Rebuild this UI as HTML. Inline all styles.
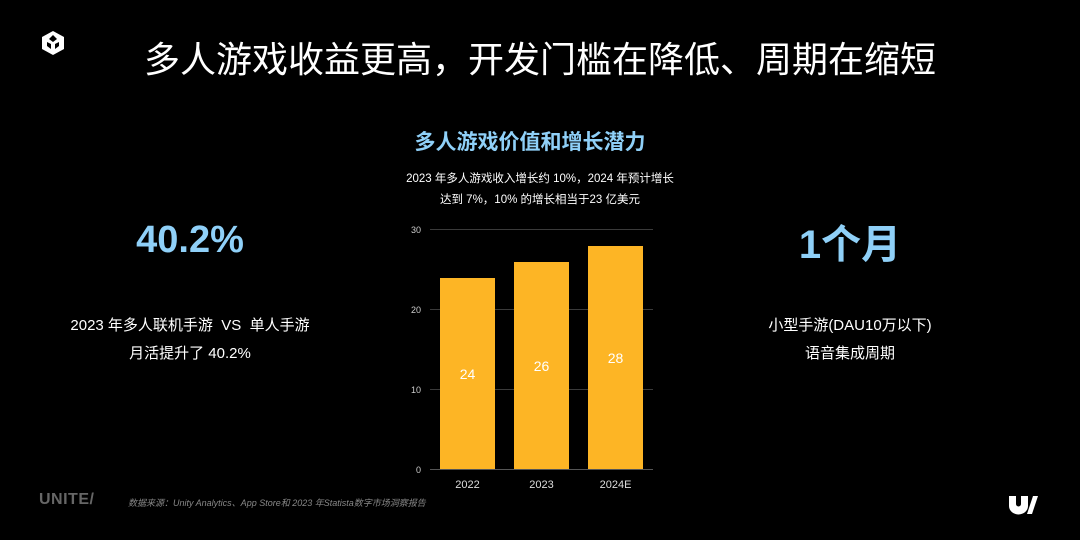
<!DOCTYPE html>
<html><head><meta charset="utf-8"><style>
body{margin:0;width:1080px;height:540px;background:#000;overflow:hidden;position:relative;font-family:"Liberation Sans","Noto Sans CJK SC",sans-serif;color:#fff}
.a{position:absolute;white-space:nowrap}
</style></head><body>
<svg class="a" style="left:40px;top:30px" width="26" height="26" viewBox="0 0 26 26">
<path d="M13 1 L24 7 L24 19 L13 25 L2 19 L2 7 Z" fill="#fff"/>
<path d="M13 5 L9 9 L13 12 L17 9 Z M7 12 L11 14 L11 19 L7 16Z M19 12 L15 14 L15 19 L19 16Z" fill="#000"/>
</svg>
<div class="a" style="left:0;width:1080px;text-align:center;top:31px;font-size:36px;">多人游戏收益更高，开发门槛在降低、周期在缩短</div>
<div class="a" style="left:380px;width:300px;text-align:center;top:126px;font-size:21px;font-weight:bold;color:#8fd0f8">多人游戏价值和增长潜力</div>
<div class="a" style="left:380px;width:320px;text-align:center;top:169px;font-size:11.5px;line-height:21px">2023 年多人游戏收入增长约 10%，2024 年预计增长<br>达到 7%，10% 的增长相当于23 亿美元</div>
<div class="a" style="left:90px;width:200px;text-align:center;top:219px;font-size:38px;font-weight:bold;color:#8fd0f8">40.2%</div>
<div class="a" style="left:40px;width:300px;text-align:center;top:312px;font-size:15px;line-height:28px">2023 年多人联机手游 &nbsp;VS &nbsp;单人手游<br>月活提升了 40.2%</div>
<div class="a" style="left:750px;width:200px;text-align:center;top:212px;font-size:40px;font-weight:bold;color:#8fd0f8">1个月</div>
<div class="a" style="left:700px;width:300px;text-align:center;top:312px;font-size:15px;line-height:28px">小型手游(DAU10万以下)<br>语音集成周期</div>
<svg class="a" style="left:0;top:0" width="1080" height="540">
<g stroke="#3a3a3a" stroke-width="1">
<line x1="430" x2="653" y1="229.5" y2="229.5"/><line x1="430" x2="653" y1="309.5" y2="309.5"/><line x1="430" x2="653" y1="389.5" y2="389.5"/><line x1="430" x2="653" y1="469.5" y2="469.5" stroke="#555"/>
</g>
<g font-size="9" fill="#ccc" text-anchor="end" font-family="Liberation Sans">
<text x="421" y="233">30</text><text x="421" y="313">20</text><text x="421" y="393">10</text><text x="421" y="473">0</text></g>
<g fill="#fdb525">
<rect x="440" y="278" width="55" height="191"/><rect x="514" y="262" width="55" height="207"/><rect x="588" y="246" width="55" height="223"/></g>
<g font-size="14" fill="#fff" text-anchor="middle" font-family="Liberation Sans">
<text x="467.5" y="379">24</text><text x="541.5" y="371">26</text><text x="615.5" y="363">28</text></g>
<g font-size="11" fill="#ddd" text-anchor="middle" font-family="Liberation Sans">
<text x="467.5" y="488">2022</text><text x="541.5" y="488">2023</text><text x="615.5" y="488">2024E</text></g>
<path d="M1009 496 h7 v8 a2 2 0 0 0 5 0 v-8 h7 v10 a9 8 0 0 1 -19 0 Z" fill="#fff"/>
<path d="M1033 496 h5 l-6 18 h-5 Z" fill="#fff"/>
</svg>
<div class="a" style="left:39px;top:491px;font-size:16px;font-weight:bold;color:#666;letter-spacing:0.5px">UNITE/</div>
<div class="a" style="left:128px;top:496px;font-size:9px;font-style:italic;color:#888">数据来源：Unity Analytics、App Store和 2023 年Statista数字市场洞察报告</div>
</body></html>
